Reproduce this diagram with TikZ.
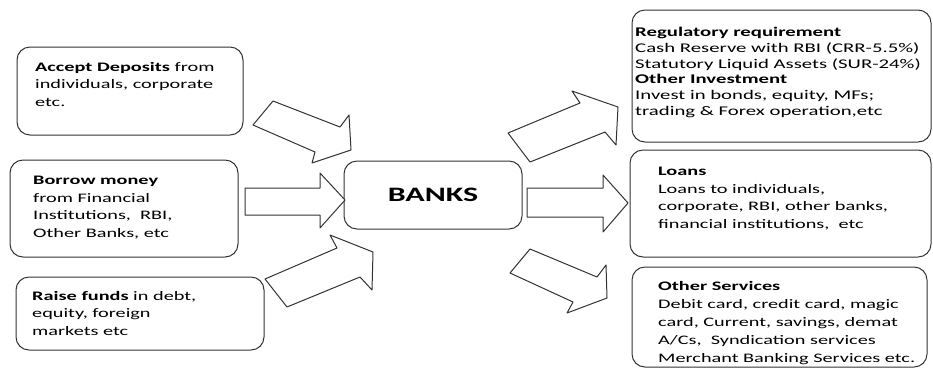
\documentclass[tikz,border=0pt]{standalone}
\usepackage{fontspec}
\setmainfont{Carlito}[FakeStretch=1.56]
\begin{document}
\begin{tikzpicture}[x=1pt,y=-1pt,line join=round,
	box/.style={draw=black!80,line width=1pt,rounded corners=13pt,inner sep=0pt},
	txt/.style={anchor=north west,inner sep=0pt,align=left,font=\fontsize{13}{17.5}\selectfont},
	blk/.style={draw=black!80,line width=1pt,fill=white}]
	\useasboundingbox (0,0) rectangle (933,368);
	% boxes
	\node[box,minimum width=226,minimum height=88] (dep) at (130,91) {};
	\node[box,minimum width=228,minimum height=97] (bor) at (124,208.5) {};
	\node[box,minimum width=248,minimum height=73] (rai) at (140,313.5) {};
	\node[box,minimum width=178,minimum height=68,font=\fontsize{20.5}{24}\selectfont\bfseries] (bank) at (433,195) {BANKS};
	\node[box,minimum width=299,minimum height=132] (reg) at (781.5,76) {};
	\node[box,minimum width=301,minimum height=107] (loan) at (780.5,203.5) {};
	\node[box,minimum width=295,minimum height=100] (oth) at (779.5,317) {};
	% texts
	\node[txt] (tdep) at (35,62) {\textbf{Accept Deposits} from\\individuals, corporate\\etc.};
	\node[txt] (tbor) at (33,176) {\textbf{Borrow money}\\from Financial\\Institutions,\ \ RBI,\\Other Banks, etc};
	\node[txt] (trai) at (32,291) {\textbf{Raise funds} in debt,\\equity, foreign\\markets etc};
	\node[txt,font=\fontsize{13.3}{15.8}\selectfont] (treg) at (635,27) {\textbf{Regulatory requirement}\\Cash Reserve with RBI (CRR-5.5\%)\\Statutory Liquid Assets (SUR-24\%)\\\textbf{Other Investment}\\Invest in bonds, equity, MFs;\\trading \& Forex operation,etc};
	\node[txt] (tloan) at (658,167) {\textbf{Loans}\\Loans to individuals,\\corporate, RBI, other banks,\\financial institutions,\ \ etc};
	\node[txt,font=\fontsize{13}{18}\selectfont] (toth) at (658,281) {\textbf{Other Services}\\Debit card, credit card, magic\\card, Current, savings, demat\\A/Cs,\ \ Syndication services\\Merchant Banking Services etc.};
	% block arrows in
	\draw[blk] (273,101)--(340,127)--(349,115)--(351,150)--(312,163)--(315,152)--(253,125)--cycle;
	\draw[blk] (245,188)--(320,188)--(320,173)--(345,200)--(320,228)--(320,215)--(245,215)--cycle;
	\draw[blk] (265,279)--(337,248)--(330,235)--(373,252)--(372,290)--(360,277)--(287,307)--cycle;
	% block arrows out
	\draw[blk] (508,133)--(580,103)--(572,91)--(618,107)--(616,145)--(605,132)--(530,162)--cycle;
	\draw[blk] (527,188)--(603,188)--(603,175)--(628,203)--(603,232)--(603,217)--(527,217)--cycle;
	\draw[blk] (530,249)--(597,277)--(606,265)--(607,298)--(567,313)--(573,302)--(510,273)--cycle;
\end{tikzpicture}
\end{document}
